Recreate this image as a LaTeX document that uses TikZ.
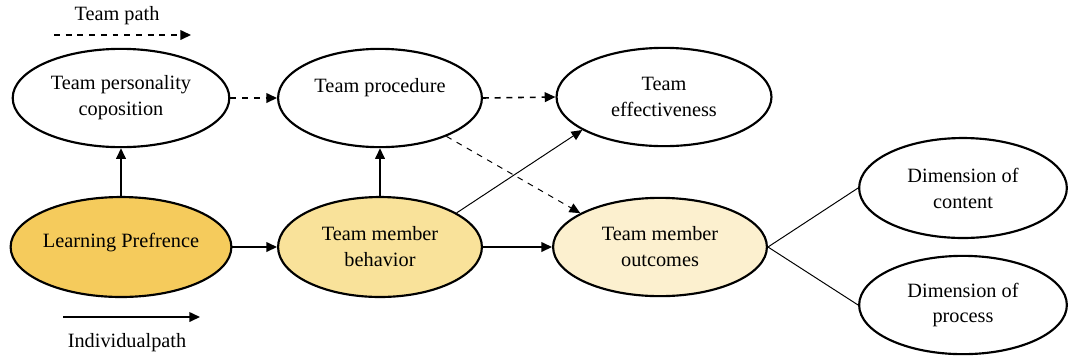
\documentclass[tikz,border=0pt]{standalone}
\usepackage{fontspec}
\setmainfont{Liberation Serif}
\usetikzlibrary{shapes.geometric,arrows.meta}
\definecolor{gold}{RGB}{245,203,92}
\definecolor{lightgold}{RGB}{249,226,154}
\definecolor{palegold}{RGB}{252,240,207}
\begin{document}
\begin{tikzpicture}[x=0.018cm,y=-0.018cm,
    oval/.style={ellipse,draw=black,line width=1.1pt,inner sep=0pt,align=center,
      minimum width=3.9cm,minimum height=1.77cm,font=\fontsize{10.4}{13.3}\selectfont},
    tip/.style={-{Triangle[length=5.5pt,width=5pt]},line width=0.8pt},
    thin/.style={line width=0.5pt}]

      \useasboundingbox (0,0) rectangle (1068,357);

      % team level
      \node[oval] (pers) at (121,98){Team personality\\coposition};
      \node[oval,minimum width=3.67cm] (proc) at (380,98){Team procedure\\\mbox{}};
      \node[oval,minimum width=3.87cm] (eff) at (664,97){Team\\effectiveness};

      % individual level
      \node[oval,fill=gold,minimum height=1.8cm] (learn) at (121,247){Learning Prefrence\\[-6pt]\mbox{}};
      \node[oval,fill=lightgold,minimum width=3.67cm,minimum height=1.8cm] (behav) at (380,247){Team member\\behavior};
      \node[oval,fill=palegold,minimum width=3.85cm] (outc) at (660,247){Team member\\outcomes};

      % outcome dimensions
      \node[oval,minimum width=3.74cm,minimum height=1.8cm] (cont) at (963,188){Dimension of\\content};
      \node[oval,minimum width=3.74cm] (procs) at (963,305){Dimension of\\process};

      \draw[tip] (learn) -- (pers);
      \draw[tip] (behav) -- (proc);
      \draw[tip] (learn) -- (behav);
      \draw[tip] (behav) -- (outc);
      \draw[tip,dashed] (pers) -- (proc);
      \draw[tip,dashed] (proc.east) -- (eff.west);
      \draw[tip,dashed,thin] (proc.-30) -- (outc.157);
      \draw[tip,thin] (behav.24) -- (eff.-158);
      \draw[thin] (outc.east) -- (cont.west);
      \draw[thin] (outc.east) -- (procs.west);

      % legend
      \node[font=\fontsize{10.4}{13.3}\selectfont] (tpath) at (117,16){Team path};
      \coordinate (ta) at (54,35);
      \coordinate (tb) at (191,35);
      \draw[tip,dashed] (ta) -- (tb);
      \coordinate (ia) at (63,317);
      \coordinate (ib) at (200,317);
      \draw[tip] (ia) -- (ib);
      \node[font=\fontsize{10.4}{13.3}\selectfont] (ipath) at (127,343){Individualpath};

    \end{tikzpicture}
\end{document}
